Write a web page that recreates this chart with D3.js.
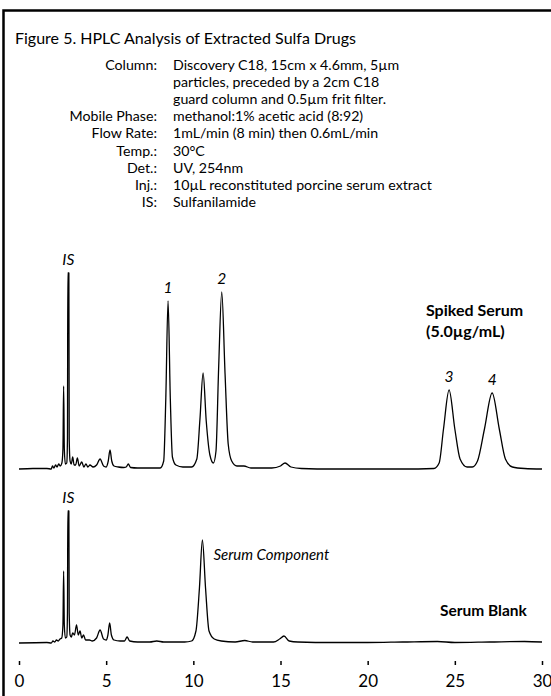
<!DOCTYPE html>
<html lang="en">
<head>
<meta charset="UTF-8">
<title>HPLC Analysis of Extracted Sulfa Drugs</title>
<style>
    body {
        margin: 0;
        background-color: #FFFFFF;
    }
    svg {
        display: block;
        font-family: Lato, "Open Sans", Arial, sans-serif;
    }
</style>
</head>
<body>
<svg id="chart" width="551" height="696"></svg>

<script src="https://d3js.org/d3.v7.min.js"></script>
<script>
    // Figure text
    const titleText = "Figure 5. HPLC Analysis of Extracted Sulfa Drugs";
    const conditionLabels = ["Column:", "", "", "Mobile Phase:", "Flow Rate:", "Temp.:", "Det.:", "Inj.:", "IS:"];
    const conditionValues = [
        "Discovery C18, 15cm x 4.6mm, 5µm",
        "particles, preceded by a 2cm C18",
        "guard column and 0.5µm frit filter.",
        "methanol:1% acetic acid (8:92)",
        "1mL/min (8 min) then 0.6mL/min",
        "30°C",
        "UV, 254nm",
        "10µL reconstituted porcine serum extract",
        "Sulfanilamide"
    ];
    const timeTicks = [0, 5, 10, 15, 20, 25, 30];

    // Spiked serum chromatogram: [retention time (min), detector response]
    const spikedTrace = [
        [0, 0], [0.8, 0.5], [1.6, 0.5], [1.85, 0], [1.92, 3], [2.0, 1], [2.1, 4], [2.18, 2],
        [2.28, 5], [2.36, 3], [2.46, 6], [2.52, 20], [2.56, 83], [2.6, 20], [2.66, 5], [2.74, 6],
        [2.78, 30], [2.8, 196], [2.86, 196], [2.88, 30], [2.93, 8], [3.0, 5], [3.08, 12], [3.16, 4],
        [3.25, 4], [3.35, 11], [3.45, 3], [3.6, 7], [3.72, 2], [3.84, 5], [3.95, 2], [4.07, 4],
        [4.25, 2], [4.45, 4], [4.65, 10], [4.85, 3], [5.0, 2], [5.12, 8], [5.22, 19], [5.32, 8],
        [5.45, 3], [5.7, 2], [6.0, 1.5], [6.15, 2], [6.27, 5], [6.4, 1.5], [6.8, 1], [7.5, 1],
        [8.1, 1], [8.3, 8], [8.42, 70], [8.55, 168], [8.68, 70], [8.8, 12], [9.0, 4], [9.4, 2],
        [9.9, 2], [10.2, 10], [10.38, 50], [10.56, 96], [10.74, 48], [10.95, 14], [11.15, 6],
        [11.3, 18], [11.45, 100], [11.63, 177], [11.82, 95], [12.0, 25], [12.2, 8], [12.5, 3],
        [12.9, 3], [13.3, 1], [14.5, 1], [15.0, 3], [15.26, 6], [15.6, 2], [16.2, 0.5], [18, 0],
        [20, 0], [22, 0], [23.8, 0.5], [24.1, 6], [24.35, 40], [24.67, 79], [25.0, 40], [25.3, 10],
        [25.7, 2], [26.0, 2], [26.3, 8], [26.7, 40], [27.14, 76], [27.55, 40], [27.9, 10],
        [28.3, 2], [29, 0.5], [30, 0]
    ];

    // Serum blank chromatogram: [retention time (min), detector response]
    const blankTrace = [
        [0, 0], [1.6, 0.5], [1.85, 0], [1.95, 2], [2.05, 1], [2.15, 3], [2.25, 2], [2.35, 4],
        [2.45, 5], [2.52, 18], [2.56, 72], [2.6, 18], [2.66, 5], [2.74, 6], [2.78, 30], [2.8, 132],
        [2.86, 132], [2.88, 30], [2.93, 8], [3.0, 6], [3.08, 10], [3.18, 8], [3.3, 18], [3.4, 8],
        [3.5, 12], [3.6, 5], [3.7, 8], [3.82, 3], [4.04, 3], [4.2, 2], [4.45, 5], [4.65, 13],
        [4.85, 4], [5.0, 3], [5.1, 8], [5.2, 20], [5.3, 8], [5.45, 3], [5.8, 2], [6.05, 2],
        [6.2, 6], [6.35, 2], [6.8, 1], [7.5, 1], [7.9, 2], [8.3, 1], [9.5, 1], [9.9, 2],
        [10.15, 12], [10.35, 55], [10.52, 103], [10.7, 55], [10.9, 12], [11.2, 4], [11.6, 2],
        [12.4, 1], [12.95, 2.5], [13.4, 1], [14.6, 1], [14.95, 4], [15.2, 7], [15.5, 2], [16, 1],
        [18, 0.5], [20, 0.5], [22, 1], [24, 1.5], [25, 0.5], [27, 1], [29, 1.5], [30, 1]
    ];

    // Peak labels: [retention time, response, label]
    const spikedPeakLabels = [[2.83, 196, "IS"], [8.55, 168, "1"], [11.63, 177, "2"], [24.67, 79, "3"], [27.14, 76, "4"]];
    const blankPeakLabels = [[2.83, 132, "IS"]];

    const svg = d3.select("#chart");

    // Frame (top and left rule)
    svg.append("path")
        .attr("d", "M3.5,696 V10.5 H551")
        .attr("fill", "none")
        .attr("stroke", "#000")
        .attr("stroke-width", 2.5);

    // Title
    svg.append("text")
        .attr("x", 15)
        .attr("y", 44)
        .attr("font-size", "16px")
        .text(titleText);

    // Conditions block
    const lineStep = 17.1;
    const condTop = 70;
    svg.append("g").selectAll("text")
        .data(conditionLabels)
        .join("text")
        .attr("x", 157)
        .attr("y", (d, i) => condTop + i * lineStep)
        .attr("text-anchor", "end")
        .attr("font-size", "14.2px")
        .text(d => d);
    svg.append("g").selectAll("text")
        .data(conditionValues)
        .join("text")
        .attr("x", 173)
        .attr("y", (d, i) => condTop + i * lineStep)
        .attr("font-size", "14.2px")
        .text(d => d);

    // Scales
    const x = d3.scaleLinear().domain([0, 30]).range([19, 542]);
    const ySpiked = d3.scaleLinear().domain([0, 200]).range([469, 269]);
    const yBlank = d3.scaleLinear().domain([0, 200]).range([643, 443]);

    function drawTrace(data, y) {
        const line = d3.line()
            .x(d => x(d[0]))
            .y(d => y(d[1]))
            .curve(d3.curveMonotoneX);
        svg.append("path")
            .datum(data)
            .attr("d", line)
            .attr("fill", "none")
            .attr("stroke", "#000")
            .attr("stroke-width", 1.3)
            .attr("stroke-linejoin", "round");
    }

    function drawPeakLabels(labels, y) {
        svg.append("g").selectAll("text")
            .data(labels)
            .join("text")
            .attr("x", d => x(d[0]))
            .attr("y", d => y(d[1]) - 8)
            .attr("text-anchor", "middle")
            .attr("font-size", "15.5px")
            .attr("font-style", "italic")
            .text(d => d[2]);
    }

    drawTrace(spikedTrace, ySpiked);
    drawTrace(blankTrace, yBlank);
    drawPeakLabels(spikedPeakLabels, ySpiked);
    drawPeakLabels(blankPeakLabels, yBlank);

    // Serum component annotation
    svg.append("text")
        .attr("x", x(10.52) + 11)
        .attr("y", yBlank(103) + 20)
        .attr("font-size", "15px")
        .attr("font-style", "italic")
        .text("Serum Component");

    // Trace titles
    const spikedTitle = svg.append("text")
        .attr("x", 426)
        .attr("y", 316)
        .attr("font-size", "16px")
        .attr("font-weight", "bold");
    spikedTitle.append("tspan").attr("x", 426).text("Spiked Serum");
    spikedTitle.append("tspan").attr("x", 426).attr("dy", 21).text("(5.0µg/mL)");

    svg.append("text")
        .attr("x", 440)
        .attr("y", 616)
        .attr("font-size", "15.5px")
        .attr("font-weight", "bold")
        .text("Serum Blank");

    // Time axis
    const axis = svg.append("g")
        .attr("transform", "translate(0,661)")
        .call(d3.axisBottom(x).tickValues(timeTicks).tickSize(4).tickSizeOuter(0).tickPadding(10));
    axis.select(".domain").remove();
    axis.selectAll(".tick line").attr("stroke-width", 1.5);
    axis.selectAll(".tick text")
        .attr("font-family", "Lato, \"Open Sans\", Arial, sans-serif")
        .attr("font-size", "17px")
        .attr("fill", "#000");
</script>
</body>
</html>
